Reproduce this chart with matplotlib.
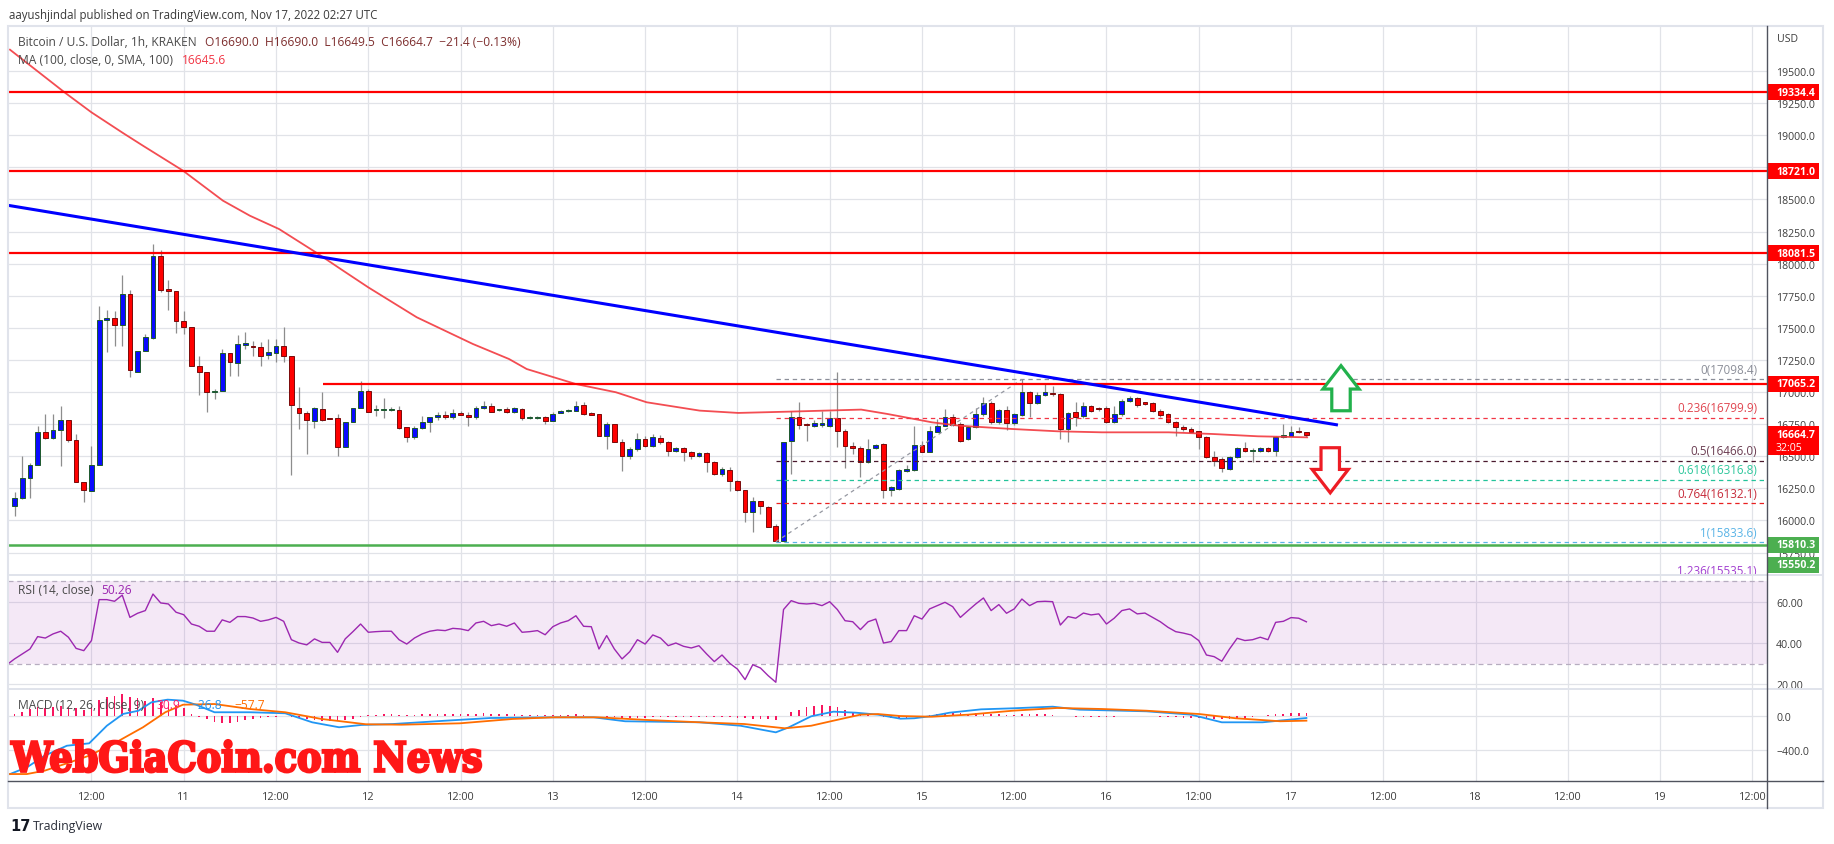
import matplotlib
matplotlib.use("Agg")
import numpy as np
import matplotlib.pyplot as plt
from matplotlib.patches import Rectangle, Polygon, PathPatch
from matplotlib.lines import Line2D
from matplotlib.path import Path
from matplotlib.textpath import TextPath
from matplotlib.font_manager import FontProperties

plt.rcParams['font.family'] = ['Open Sans', 'DejaVu Sans']

# ---- data, x = hours since Nov 10 00:00 UTC ----
hours = list(range(2, 171))
opens = [16115, 16172, 16328, 16432, 16686, 16639, 16707, 16780, 16629, 16302,
         16227, 16434, 17561, 17576, 17525, 17763, 17159, 17320, 17418, 18059,
         17802, 17784, 17556, 17504, 17205, 17153, 16998, 17011, 17301, 17226,
         17366, 17356, 17348, 17291, 17304, 17356, 17278, 16876, 16834, 16777,
         16868, 16796, 16798, 16569, 16764, 16876, 17006, 16858, 16860, 16862,
         16863, 16725, 16647, 16717, 16764, 16803, 16821, 16803, 16837, 16824,
         16803, 16876, 16894, 16858, 16868, 16842, 16868, 16798, 16798, 16803,
         16777, 16840, 16850, 16855, 16899, 16837, 16829, 16660, 16751, 16613,
         16504, 16556, 16634, 16577, 16642, 16608, 16543, 16561, 16535, 16504,
         16522, 16452, 16362, 16395, 16310, 16237, 16063, 16149, 16102, 15959,
         15842, 16621, 16803, 16751, 16738, 16743, 16733, 16795, 16699, 16577,
         16561, 16452, 16561, 16595, 16237, 16245, 16388, 16393, 16587, 16535,
         16691, 16738, 16803, 16751, 16634, 16725, 16829, 16912, 16764, 16863,
         16756, 16821, 16998, 16912, 16977, 16993, 16985, 16712, 16842, 16811,
         16894, 16868, 16873, 16764, 16829, 16928, 16951, 16920, 16912, 16855,
         16829, 16764, 16725, 16712, 16694, 16647, 16491, 16478, 16400, 16491,
         16564, 16540, 16538, 16564, 16538, 16652, 16660, 16699, 16690]
highs = [16219, 16504, 16447, 16738, 16829, 16829, 16894, 16780, 16673, 16302,
         16577, 17673, 17641, 17634, 17911, 17797, 17320, 17452, 18153, 18106,
         17875, 17784, 17634, 17504, 17283, 17153, 17024, 17335, 17301, 17444,
         17465, 17400, 17387, 17413, 17413, 17504, 17278, 17037, 16855, 16881,
         16998, 16800, 16829, 16764, 16876, 17083, 17024, 16900, 16950, 16880,
         16894, 16725, 16738, 16816, 16803, 16845, 16850, 16868, 16850, 16842,
         16894, 16933, 16915, 16870, 16881, 16881, 16876, 16810, 16810, 16816,
         16842, 16860, 16870, 16933, 16920, 16845, 16829, 16764, 16751, 16634,
         16569, 16678, 16660, 16673, 16665, 16621, 16570, 16570, 16543, 16530,
         16535, 16460, 16413, 16413, 16318, 16237, 16180, 16149, 16115, 15972,
         16613, 16855, 16920, 16760, 16780, 16855, 16855, 17153, 16712, 16608,
         16582, 16634, 16595, 16600, 16266, 16400, 16430, 16738, 16621, 16738,
         16790, 16868, 16829, 16764, 16738, 16873, 16959, 16933, 16868, 16894,
         16837, 17098, 17010, 16998, 17063, 17050, 16990, 16842, 16920, 16920,
         16899, 16880, 16894, 16894, 16946, 16972, 16959, 16925, 16920, 16868,
         16837, 16777, 16743, 16725, 16699, 16660, 16543, 16491, 16504, 16569,
         16613, 16561, 16569, 16570, 16660, 16751, 16738, 16725, 16690]
lows = [16032, 16167, 16172, 16432, 16634, 16634, 16426, 16608, 16302, 16146,
        16227, 16434, 17314, 17356, 17356, 17114, 17153, 17320, 17413, 17776,
        17641, 17460, 17452, 17205, 16977, 16842, 16946, 17011, 17127, 17122,
        17335, 17283, 17200, 17257, 17231, 17231, 16354, 16712, 16517, 16717,
        16777, 16790, 16504, 16569, 16764, 16876, 16842, 16810, 16800, 16850,
        16712, 16608, 16634, 16712, 16691, 16780, 16790, 16790, 16820, 16738,
        16790, 16868, 16842, 16850, 16835, 16835, 16782, 16790, 16790, 16751,
        16772, 16835, 16845, 16855, 16821, 16820, 16655, 16556, 16608, 16387,
        16478, 16543, 16569, 16572, 16595, 16504, 16535, 16465, 16478, 16495,
        16374, 16354, 16349, 16232, 16232, 15990, 15907, 16050, 15946, 15834,
        15835, 16362, 16712, 16621, 16730, 16725, 16725, 16569, 16405, 16517,
        16336, 16447, 16556, 16172, 16188, 16237, 16380, 16388, 16530, 16530,
        16686, 16733, 16738, 16613, 16629, 16720, 16816, 16751, 16751, 16707,
        16746, 16816, 16808, 16905, 16970, 16972, 16634, 16608, 16738, 16800,
        16842, 16855, 16759, 16759, 16816, 16920, 16881, 16900, 16847, 16803,
        16759, 16660, 16700, 16686, 16556, 16483, 16426, 16374, 16395, 16483,
        16530, 16452, 16530, 16530, 16504, 16640, 16655, 16680, 16649.5]
closes = [16172, 16328, 16432, 16686, 16639, 16707, 16780, 16629, 16302, 16237,
          16434, 17561, 17576, 17525, 17763, 17174, 17320, 17426, 18059, 17797,
          17784, 17556, 17504, 17205, 17153, 16998, 17011, 17301, 17236, 17374,
          17382, 17348, 17283, 17309, 17361, 17283, 16902, 16834, 16785, 16876,
          16785, 16793, 16569, 16764, 16876, 17006, 16847, 16863, 16863, 16862,
          16717, 16647, 16717, 16764, 16803, 16821, 16803, 16837, 16824, 16803,
          16876, 16894, 16847, 16860, 16842, 16876, 16795, 16800, 16800, 16772,
          16829, 16850, 16860, 16894, 16829, 16824, 16660, 16751, 16613, 16504,
          16556, 16634, 16577, 16647, 16608, 16543, 16561, 16530, 16504, 16522,
          16452, 16362, 16400, 16310, 16237, 16063, 16154, 16115, 15951, 15842,
          16613, 16803, 16746, 16743, 16756, 16756, 16795, 16699, 16577, 16561,
          16452, 16556, 16587, 16237, 16258, 16393, 16400, 16587, 16535, 16699,
          16738, 16803, 16743, 16621, 16725, 16829, 16912, 16764, 16863, 16756,
          16829, 16998, 16912, 16977, 16998, 16982, 16712, 16834, 16803, 16894,
          16855, 16866, 16764, 16829, 16928, 16951, 16899, 16907, 16855, 16821,
          16764, 16725, 16712, 16691, 16647, 16491, 16465, 16406, 16491, 16564,
          16538, 16545, 16564, 16538, 16652, 16665, 16691, 16686, 16664.7]

ma_hours = [1.4, 8.6, 12.0, 16.1, 18.7, 23.9, 29.1, 32.6, 36.4, 41.3, 44.4, 48.0,
            54.3, 61.6, 66.3, 68.6, 75.0, 80.2, 84.2, 91.1, 96.1, 102.7, 112.1,
            115.5, 121.3, 124.8, 131.7, 137.6, 143.4, 152.1, 157.8, 163.7, 170.1]
ma_values = [19666, 19329, 19178, 19017, 18918, 18724, 18490, 18373, 18269, 18083,
             17958, 17815, 17582, 17374, 17257, 17179, 17062, 16998, 16920, 16855,
             16837, 16847, 16863, 16829, 16764, 16738, 16712, 16694, 16686, 16686,
             16673, 16655, 16647]

resistance_levels = [19334.4, 18721.0, 18081.5]
level_17065 = 17065.2
support_level = 15810.3
trend_hours = [1.14, 174.1]
trend_values = [18454, 16743]

fib_low_hour, fib_high_hour = 101, 133
fib_low, fib_high = 15833.6, 17098.4
fib_ratios = ['0', '0.236', '0.5', '0.618', '0.764', '1', '1.236']
fib_prices = [17098.4, 16799.9, 16466.0, 16316.8, 16132.1, 15833.6, 15535.1]
fib_colors = ['#8c8f99', '#f23645', '#4a1a2e', '#22c39a', '#e82020', '#5ab4e6', '#a23fd0']
fib_text_colors = ['#8c8f99', '#e0454f', '#6b3d52', '#2ec79c', '#c62b3a', '#5ab4e6', '#a23fd0']

rsi_hours = list(range(1, 171))
rsi_values = [29.5,
    32.3, 34.7, 37.1, 43.1, 42.4, 44.4, 45.7, 42.8, 37.4, 36.3,
    41.2, 61.0, 61.0, 60.2, 63.2, 52.4, 54.4, 55.7, 63.7, 59.4,
    58.9, 54.9, 53.7, 49.2, 48.1, 45.7, 45.7, 51.2, 50.0, 52.8,
    52.8, 52.1, 50.5, 51.2, 52.4, 50.5, 41.6, 40.0, 39.1, 42.0,
    40.3, 40.3, 35.5, 42.0, 45.5, 49.2, 45.2, 45.5, 45.7, 45.7,
    41.6, 39.5, 42.4, 44.4, 45.7, 46.3, 46.0, 47.1, 46.8, 46.0,
    49.7, 50.5, 48.4, 49.2, 48.1, 49.7, 45.2, 45.5, 46.0, 44.0,
    47.9, 49.7, 50.8, 53.2, 48.1, 47.9, 37.1, 43.6, 37.1, 32.3,
    35.8, 41.6, 39.5, 43.9, 42.4, 38.7, 40.0, 38.4, 37.6, 38.7,
    34.7, 31.0, 34.2, 30.2, 27.4, 22.3, 29.5, 27.9, 24.2, 21.0,
    56.2, 60.5, 59.2, 58.9, 59.2, 58.1, 60.0, 56.2, 50.8, 50.3,
    46.5, 50.3, 51.6, 40.0, 40.7, 46.0, 46.0, 53.2, 51.6, 56.5,
    58.1, 59.7, 57.6, 52.4, 55.7, 58.9, 61.8, 55.7, 58.6, 54.4,
    56.5, 61.3, 58.1, 60.0, 60.2, 60.0, 48.7, 52.8, 52.0, 54.5,
    53.6, 54.1, 49.2, 52.0, 55.7, 56.5, 54.1, 54.5, 52.4, 50.3,
    47.6, 45.5, 44.8, 43.9, 41.2, 34.2, 33.4, 31.2, 37.1, 42.3,
    41.2, 41.6, 42.8, 41.6, 50.0, 50.5, 52.3, 52.0, 50.26]

macd_hours = [1.4, 3.6, 5.9, 8.8, 11.7, 14.0, 16.1, 18.1, 19.8, 21.9, 23.9, 25.6,
              28.0, 32.6, 37.2, 40.7, 44.2, 47.1, 51.2, 58.1, 63.9, 72.1, 77.3,
              81.4, 91.1, 96.4, 101.0, 102.7, 105.6, 108.5, 111.4, 114.3, 117.2,
              119.0, 121.3, 123.6, 127.7, 131.8, 137.0, 140.5, 149.2, 155.0,
              159.0, 164.3, 170.0]
macd_values = [-680, -602, -466, -350, -322, -117, 20, 58, 156, 187, 175, 128,
               40, 40, 28, -77, -135, -108, -97, -58, -27, -19, -19, -65, -77,
               -117, -194, -135, -7, 47, 35, 12, -35, -30, -4, 35, 74, 86, 105,
               70, 51, 12, -77, -77, -27]
signal_hours = [1.4, 3.6, 5.9, 8.8, 11.7, 15.2, 18.7, 21.6, 23.9, 28.0, 32.6, 37.2,
                41.9, 47.7, 52.3, 59.9, 66.8, 72.1, 77.9, 84.3, 91.1, 96.9, 102.2,
                105.6, 108.5, 112.0, 114.3, 117.2, 121.3, 126.0, 131.8, 137.6,
                143.4, 149.2, 156.1, 160.8, 166.6, 170.0]
signal_values = [-680, -680, -641, -555, -466, -310, -135, 40, 128, 136, 78, 40,
                 -38, -100, -105, -89, -38, -19, -19, -50, -77, -97, -147, -117,
                 -58, 12, 19, -4, -12, 12, 58, 90, 78, 58, 19, -30, -65, -58]
hist_values = [19, 47, 74, 97, 86, 97, 113, 105, 86, 66, 97,
               183, 214, 229, 253, 222, 202, 175, 202, 163, 136, 113, 86,
               20, -15, -40, -70, -89, -82, -70, -50, -35, -27, -20, -12, -4,
               -12, -23, -35, -50, -58, -62, -58, -50, -35, -20,
               5, 12, 15, 23, 12, 8, 10, 15, 18, 20, 20, 22, 20, 18, 25, 28, 25,
               22, 20, 18, 12, 10, 8, 5, 8, 10, 12, 15,
               8, 2, -8, -12, -18, -25, -28, -26, -24, -20, -18, -18, -15, -14, -12, -10,
               -12, -15, -15, -20, -23, -31, -35, -35, -42, -50,
               -2, 47, 70, 105, 113, 120, 117, 105, 70, 40, 20, 8,
               -4, -20, -30, -35, -35, -20, -8,
               4, 15, 25, 30, 28, 25, 28, 30, 25, 15, 10, 12, 20, 18, 22, 18, 10,
               2, -4, -10, -12, -12, -12, -12, -10, -8, -6, -6, -4, -6, -10, -14,
               -18, -22, -26, -32, -36, -40, -42, -40, -36, -30, -15, -4, 5, 18,
               25, 30, 33, 31]

price_ticks = list(range(15750, 19501, 250))
rsi_ticks = [20, 40, 60]
rsi_tick_labels = ['20.00', '40.00', '60.00']
macd_ticks = [-400, 0]
macd_tick_labels = ['\u2212400.0', '0.0']
time_ticks = [12, 24, 36, 48, 60, 72, 84, 96, 108, 120, 132, 144, 156, 168, 180,
              192, 204, 216, 228]
time_labels = ['12:00', '11', '12:00', '12', '12:00', '13', '12:00', '14', '12:00',
               '15', '12:00', '16', '12:00', '17', '12:00', '18', '12:00', '19', '12:00']

# ---- layout (pixel based) ----
W, H = 1834, 845
XMIN, XMAX = 1.144, 229.9
PMIN, PMAX = 15574.8, 19850.5
LEFT, AXR, FR = 8, 1767, 1823
GRID = '#e1e3e8'
AXTXT = '#3d3d3d'

fig = plt.figure(figsize=(W / 100, H / 100), dpi=100)
fig.patch.set_facecolor('white')


def fx(x):
    return x / W


def fy(y):
    return 1 - y / H


ax = fig.add_axes([fx(LEFT), fy(576), (AXR - LEFT) / W, 549 / H])
rsi_ax = fig.add_axes([fx(LEFT), fy(690), (AXR - LEFT) / W, 114 / H])
macd_ax = fig.add_axes([fx(LEFT), fy(782), (AXR - LEFT) / W, 92 / H])

for a in (ax, rsi_ax, macd_ax):
    a.set_xlim(XMIN, XMAX)
    for s in a.spines.values():
        s.set_visible(False)
    a.yaxis.tick_right()
    a.tick_params(axis='y', length=0, pad=6.5, labelsize=7.6, labelcolor=AXTXT)
    a.tick_params(axis='x', length=0, pad=7, labelsize=7.8, labelcolor=AXTXT)
    a.set_xticks(time_ticks)
    a.grid(True, color=GRID, lw=0.9)
    a.set_axisbelow(True)

ax.tick_params(labelbottom=False)
rsi_ax.tick_params(labelbottom=False)
macd_ax.set_xticklabels(time_labels)

# ---- main pane ----
ax.set_ylim(PMIN, PMAX)
ax.set_yticks(price_ticks)
ax.set_yticklabels(['%.1f' % p for p in price_ticks])

o = np.array(opens, float)
c = np.array(closes, float)
up = c >= o
ax.vlines(hours, lows, highs, color='#8d8d8d', lw=0.9, zorder=2)
body_h = np.maximum(np.abs(c - o), 7)
ax.bar(hours, body_h, bottom=np.minimum(o, c), width=0.62,
       color=np.where(up, '#0a0aff', '#ff0000'),
       edgecolor=np.where(up, '#1d5a2c', '#7a0a0a'), lw=0.7, zorder=3)

ax.plot(ma_hours, ma_values, color='#f2393f', lw=1.3, alpha=0.9, zorder=4)
ax.hlines(resistance_levels, XMIN, XMAX, color='#ff0000', lw=1.6, zorder=5)
ax.hlines(level_17065, 42.1, XMAX, color='#ff0000', lw=1.6, zorder=5)
ax.hlines(support_level, XMIN, XMAX, color='#4caf50', lw=1.8, zorder=5)
ax.plot(trend_hours, trend_values, color='#0000ff', lw=2.2, zorder=6,
        solid_capstyle='butt')

# fib retracement
for p, col in zip(fib_prices, fib_colors):
    ax.hlines(p, fib_low_hour, XMAX, color=col, lw=0.9, linestyles=(0, (3.5, 3)), zorder=4)
ax.plot([fib_low_hour, fib_high_hour], [fib_low, fib_high], color='#9598a1', lw=0.9,
        ls=(0, (3, 3)), zorder=4)
for r, p, col in zip(fib_ratios, fib_prices, fib_text_colors):
    ax.annotate('%s(%.1f)' % (r, p), xy=(228.6, p), xytext=(0, 4.5),
                textcoords='offset points', ha='right', va='baseline',
                fontsize=8.4, color=col, annotation_clip=False, zorder=7)


# up / down arrows drawn around a tip position (hour, price)
def arrow(tip_h, tip_p, direction, col):
    hw, sw, head, total = 2.35, 1.2, 182, 351
    s = direction
    base = tip_p - s * head
    end = tip_p - s * total
    pts = [(tip_h, tip_p), (tip_h + hw, base), (tip_h + sw, base), (tip_h + sw, end),
           (tip_h - sw, end), (tip_h - sw, base), (tip_h - hw, base)]
    ax.add_patch(Polygon(pts, closed=True, facecolor='white', edgecolor=col, lw=2.3,
                         joinstyle='miter', zorder=8))


arrow(174.5, 17205, 1, '#22b14c')
arrow(173.1, 16215, -1, '#ed1c24')

# ---- RSI pane ----
rsi_ax.set_ylim(17.74, 72.92)
rsi_ax.set_yticks(rsi_ticks)
rsi_ax.set_yticklabels(rsi_tick_labels)
rsi_ax.axhspan(30, 70, color='#9c27b0', alpha=0.1, lw=0, zorder=1)
for lvl in (70, 30):
    rsi_ax.axhline(lvl, color='#b7adc0', lw=0.9, ls=(0, (4, 3)), zorder=2)
rsi_ax.plot(rsi_hours, rsi_values, color='#9c27b0', lw=1.0, zorder=3)

# ---- MACD pane ----
macd_ax.set_ylim(-761, 311)
macd_ax.set_yticks(macd_ticks)
macd_ax.set_yticklabels(macd_tick_labels)
macd_ax.bar(hours, hist_values, width=0.22, color='#f7175f', zorder=2)
macd_ax.plot(macd_hours, macd_values, color='#2196f3', lw=1.3, zorder=3)
macd_ax.plot(signal_hours, signal_values, color='#ff6d00', lw=1.3, zorder=3)

# ---- frame lines ----
fig.add_artist(Rectangle((fx(LEFT), fy(809)), (FR - LEFT) / W, (809 - 27) / H,
                         transform=fig.transFigure, fill=False, edgecolor='#e0e3eb', lw=1.5))
for yy in (576, 690):
    fig.add_artist(Line2D([fx(LEFT), fx(FR)], [fy(yy), fy(yy)], transform=fig.transFigure,
                          color='#e0e3eb', lw=1.4))
fig.add_artist(Line2D([fx(LEFT), fx(FR)], [fy(782), fy(782)], transform=fig.transFigure,
                      color='#50535e', lw=1))
fig.add_artist(Line2D([fx(AXR), fx(AXR)], [fy(27), fy(809)], transform=fig.transFigure,
                      color='#50535e', lw=1))


# ---- price badges ----
def price_y(p):
    return 27 + (PMAX - p) / (PMAX - PMIN) * 549


def badge(yc, txt, col, h=16, sub=None):
    top = yc - h / 2
    hh = h if sub is None else h + 13
    fig.add_artist(Rectangle((fx(AXR), fy(top + hh)), 52 / W, hh / H,
                             transform=fig.transFigure, color=col, lw=0))
    fig.text(fx(1776), fy(yc), txt, color='white', fontsize=7.6, fontweight='bold',
             ha='left', va='center')
    if sub:
        fig.text(fx(1776), fy(yc + 13), sub, color='white', fontsize=7.6,
                 ha='left', va='center')


for lvl in resistance_levels + [level_17065]:
    badge(price_y(lvl), '%.1f' % lvl, '#ff0000')
badge(price_y(closes[-1]) - 1, '%.1f' % closes[-1], '#ff0000', sub='32:05')
badge(price_y(support_level), '%.1f' % support_level, '#4caf50')
badge(566, '15550.2', '#4caf50')

fig.text(fx(1777), fy(40), 'USD', fontsize=7.6, color=AXTXT, ha='left', va='center')

# ---- legend text runs ----
renderer = fig.canvas.get_renderer()


def text_width(s, size):
    t = fig.text(0, 0, s, fontsize=size)
    w = t.get_window_extent(renderer).width
    t.remove()
    return w


def text_run(x, y, parts, size, gap=7):
    for s, col in parts:
        t = fig.text(fx(x), fy(y), s, color=col, fontsize=size, ha='left', va='center')
        x += t.get_window_extent(renderer).width + gap


symbol_parts = [('Bitcoin / U.S. Dollar, 1h, KRAKEN', '#4a4a4a'),
                ('O16690.0  H16690.0  L16649.5  C16664.7  \u221221.4 (\u22120.13%)', '#7e2f2f')]
# one legend size for every pane, taken from the width of the symbol line
legend_size = 10 * (520 - 18 - 8) / sum(text_width(s, 10) for s, _ in symbol_parts)
pub = 'aayushjindal published on TradingView.com, Nov 17, 2022 02:27 UTC'
pub_size = 10 * (379 - 9) / text_width(pub, 10)

text_run(9, 15, [(pub, '#3a3a3a')], pub_size)
text_run(18, 42, symbol_parts, legend_size, gap=8)
text_run(18, 60, [('MA (100, close, 0, SMA, 100)', '#4a4a4a'), ('16645.6', '#f23645')],
         legend_size, gap=9)
text_run(18, 591, [('RSI (14, close)', '#4a4a4a'), ('50.26', '#9c27b0')], legend_size)
text_run(18, 706, [('MACD (12, 26, close, 9)', '#4a4a4a'), ('30.9', '#ff1f6b'),
                   ('\u221226.8', '#2196f3'), ('\u221257.7', '#ff6d00')], legend_size, gap=12)

fig.text(fx(10), fy(827), '17', fontsize=10.5, fontweight='heavy', family='DejaVu Sans',
         color='#131722', ha='left', va='center')
fig.text(fx(33), fy(827), 'TradingView', fontsize=8.8, color='#2a2e39', ha='left', va='center')

# ---- watermark, fitted to its box ----
fp = FontProperties(family='DejaVu Serif', weight='bold', stretch='condensed')
tp = TextPath((0, 0), 'WebGiaCoin.com News', prop=fp, size=100)
ext = tp.get_extents()
x0, x1, ytop, ybase = 11.0, 481, 741.2, 773.2
verts = tp.vertices.copy()
px = x0 + (verts[:, 0] - ext.x0) * (x1 - x0) / ext.width
py = ybase - (verts[:, 1] - ext.y0) * (ybase - ytop) / ext.height
wm = Path(np.column_stack([px / W, 1 - py / H]), tp.codes)
fig.add_artist(PathPatch(wm, transform=fig.transFigure, facecolor='#ff1717',
                         edgecolor='#ff1717', lw=1.8, joinstyle='miter', zorder=20))

fig.savefig('out.png', dpi=100, facecolor='white')
